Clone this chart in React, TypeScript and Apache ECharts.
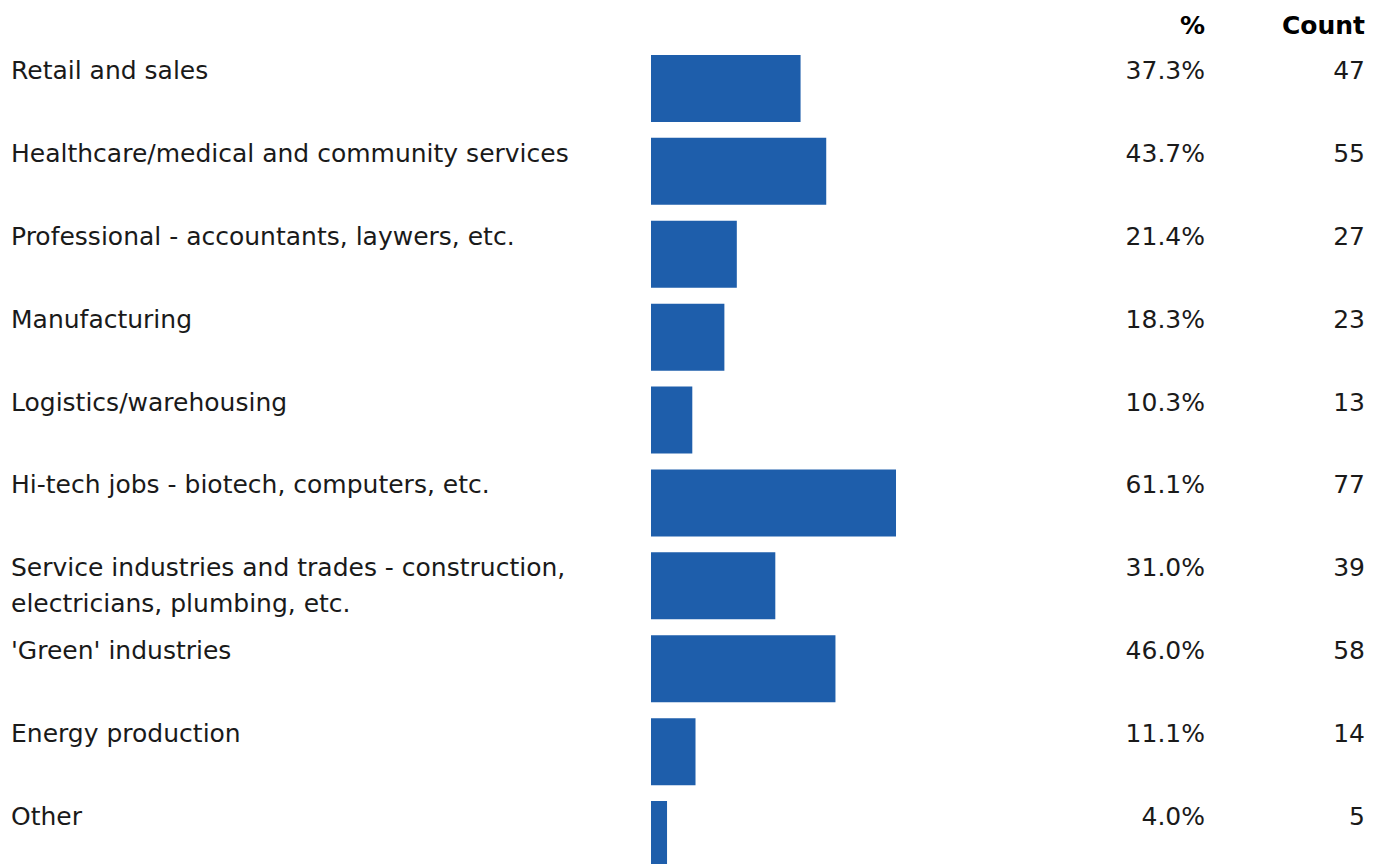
import React, { useEffect, useRef } from "react";
import * as echarts from "echarts";

const categories = [
  "Retail and sales",
  "Healthcare/medical and community services",
  "Professional - accountants, laywers, etc.",
  "Manufacturing",
  "Logistics/warehousing",
  "Hi-tech jobs - biotech, computers, etc.",
  "Service industries and trades - construction,\nelectricians, plumbing, etc.",
  "'Green' industries",
  "Energy production",
  "Other",
];
const percents = [37.3, 43.7, 21.4, 18.3, 10.3, 61.1, 31.0, 46.0, 11.1, 4.0];
const counts = [47, 55, 27, 23, 13, 77, 39, 58, 14, 5];
const headers = ["%", "Count"];

const FONT = "'DejaVu Sans'";
const TEXT = "#1a1a1a";
const BAR = "#1e5eab";

const twoLine = (s: string) => (s.indexOf("\n") >= 0 ? s : s + "\n ");

export default function App() {
  const ref = useRef<HTMLDivElement>(null);
  useEffect(() => {
    if (!ref.current) return;
    const chart = echarts.init(ref.current, undefined, { renderer: "svg" });
    const labelBase = {
      show: true,
      interval: 0,
      fontFamily: FONT,
      fontSize: 25,
      lineHeight: 36,
      color: TEXT,
      verticalAlign: "middle",
      padding: [6, 0, 0, 0],
    };
    chart.setOption({
      animation: false,
      backgroundColor: "#ffffff",
      grid: { left: 651, right: 325, top: 47, height: 829, containLabel: false },
      xAxis: {
        type: "value",
        min: 0,
        max: 100,
        show: false,
      },
      yAxis: [
        {
          type: "category",
          data: categories,
          inverse: true,
          position: "left",
          axisLine: { show: false },
          axisTick: { show: false },
          splitLine: { show: false },
          axisLabel: {
            ...labelBase,
            align: "left",
            margin: 640,
            formatter: (v: string) => twoLine(v),
          },
        },
        {
          type: "category",
          data: percents.map((p) => p.toFixed(1) + "%"),
          inverse: true,
          position: "right",
          axisLine: { show: false },
          axisTick: { show: false },
          splitLine: { show: false },
          axisLabel: {
            ...labelBase,
            align: "right",
            margin: 153,
            formatter: (v: string) => twoLine(v),
          },
        },
        {
          type: "category",
          data: counts.map((c) => String(c)),
          inverse: true,
          position: "right",
          axisLine: { show: false },
          axisTick: { show: false },
          splitLine: { show: false },
          axisLabel: {
            ...labelBase,
            align: "right",
            margin: 313,
            formatter: (v: string) => twoLine(v),
          },
        },
      ],
      series: [
        {
          type: "bar",
          yAxisIndex: 0,
          data: percents,
          barWidth: 67,
          itemStyle: { color: BAR },
          silent: true,
        },
      ],
      graphic: [
        {
          type: "text",
          x: 1205,
          y: 25,
          style: {
            text: headers[0],
            fontFamily: FONT,
            fontSize: 25,
            fontWeight: "bold",
            fill: "#000000",
            align: "right",
            verticalAlign: "middle",
          },
        },
        {
          type: "text",
          x: 1365,
          y: 25,
          style: {
            text: headers[1],
            fontFamily: FONT,
            fontSize: 25,
            fontWeight: "bold",
            fill: "#000000",
            align: "right",
            verticalAlign: "middle",
          },
        },
      ],
    });
    return () => chart.dispose();
  }, []);
  return (
    <div style={{ position: "fixed", left: 0, top: 0, width: 1377, height: 864, overflow: "hidden", background: "#fff" }}>
      <div ref={ref} style={{ width: 1377, height: 900 }} />
    </div>
  );
}
